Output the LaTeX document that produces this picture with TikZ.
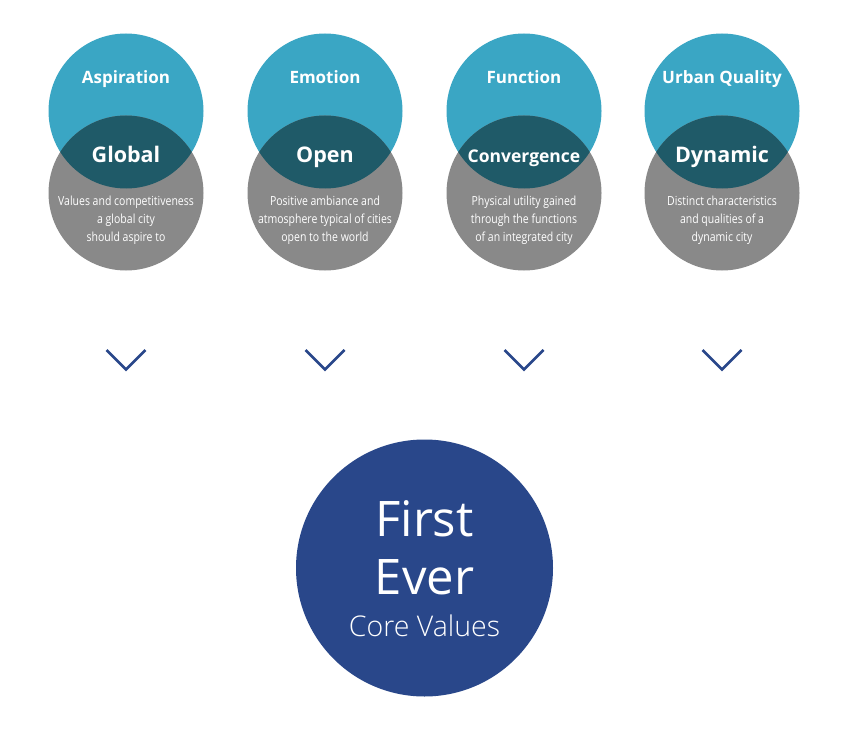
\documentclass[tikz,border=0pt]{standalone}
\usepackage{fontspec}
\setmainfont{Open Sans}
\newfontfamily\narrowfont[FakeStretch=0.84]{Open Sans}
\newfontfamily\lightfont{Open Sans Light}
\definecolor{cblue}{HTML}{3AA6C4}
\definecolor{cgrey}{HTML}{898989}
\definecolor{cdark}{HTML}{1F5A68}
\definecolor{cnavy}{HTML}{29478A}
\tikzset{
  topc/.style={circle,fill=cblue,minimum size=155pt,inner sep=0pt},
  botc/.style={circle,fill=cgrey,minimum size=155pt,inner sep=0pt},
  headtxt/.style={text=white,anchor=base,font=\bfseries\fontsize{17}{20}\selectfont},
  keytxt/.style={text=white,anchor=base,font=\bfseries\fontsize{21.5}{24}\selectfont},
  desctxt/.style={text=white,align=center,font=\narrowfont\fontsize{12.5}{17.8}\selectfont},
  chev/.style={draw=cnavy,line width=2.8pt},
  bigc/.style={circle,fill=cnavy,minimum size=257pt,inner sep=0pt}
}
\begin{document}
\begin{tikzpicture}[x=1pt,y=-1pt]
\useasboundingbox[fill=white] (0,0) rectangle (849,733);
\foreach \n/\cx/\h/\k/\d in {
  a/126/Aspiration/Global/{Values and competitiveness\\a global city\\should aspire to},
  b/325/Emotion/Open/{Positive ambiance and\\atmosphere typical of cities\\open to the world},
  c/524/Function/{\fontsize{17.5}{20}\selectfont Convergence}/{Physical utility gained\\through the functions\\of an integrated city},
  d/722/Urban Quality/Dynamic/{Distinct characteristics\\and qualities of a\\dynamic city}}{
  \node[topc] (top\n) at (\cx,111) {};
  \node[botc] (bot\n) at (\cx,193) {};
  \begin{scope}
    \clip (\cx,111) circle (77.5pt);
    \fill[cdark] (\cx,193) circle (77.5pt);
  \end{scope}
  \node[headtxt] (head\n) at (\cx,83.5) {\h};
  \node[keytxt] (key\n) at (\cx,162.5) {\k};
  \node[desctxt] (desc\n) at (\cx,220.5) {\d};
  \coordinate (cl\n) at (\cx-19.5,350);
  \coordinate (cm\n) at (\cx,369.5);
  \coordinate (cr\n) at (\cx+19.5,350);
  \draw[chev] (cl\n) -- (cm\n) -- (cr\n);
}
\node[bigc] (core) at (424.5,568) {};
\node[text=white,font=\fontsize{49}{58}\selectfont,anchor=base] (first) at (424.5,536) {First};
\node[text=white,font=\fontsize{49}{58}\selectfont,anchor=base] (ever) at (424.5,594) {Ever};
\node[text=white,font=\lightfont\fontsize{28.5}{32}\selectfont,anchor=base] (corev) at (424.5,636) {Core Values};
\end{tikzpicture}
\end{document}
